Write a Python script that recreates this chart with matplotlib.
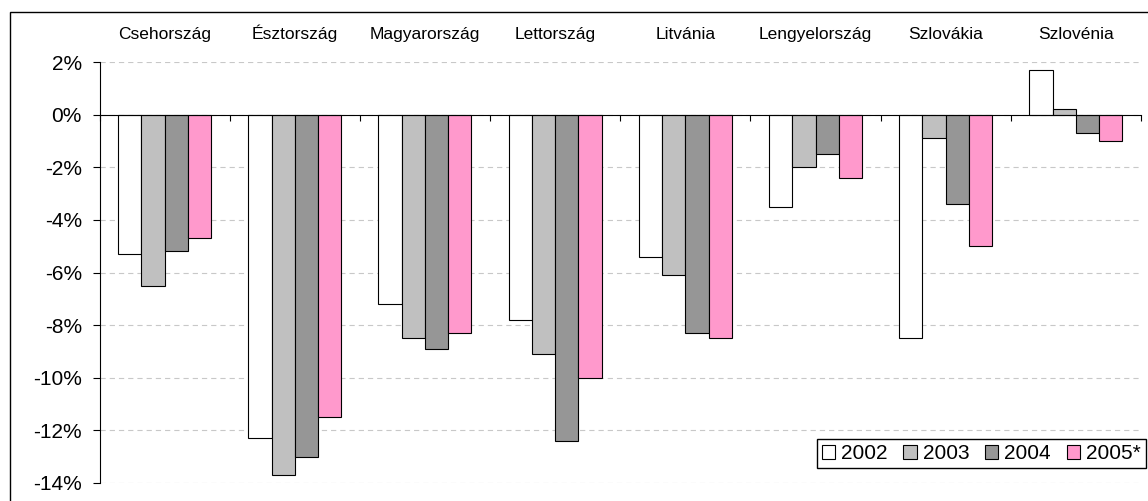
import matplotlib
matplotlib.use('Agg')
import matplotlib.pyplot as plt
import numpy as np
from matplotlib.patches import Rectangle

plt.rcParams['font.family'] = ['Liberation Sans', 'DejaVu Sans']
plt.rcParams['axes.unicode_minus'] = False

# Data (% of GDP)
countries = ['Csehország', 'Észtország', 'Magyarország', 'Lettország',
             'Litvánia', 'Lengyelország', 'Szlovákia', 'Szlovénia']
years = ['2002', '2003', '2004', '2005*']
vals_2002 = [-5.3, -12.3, -7.2, -7.8, -5.4, -3.5, -8.5, 1.7]
vals_2003 = [-6.5, -13.7, -8.5, -9.1, -6.1, -2.0, -0.9, 0.2]
vals_2004 = [-5.2, -13.0, -8.9, -12.4, -8.3, -1.5, -3.4, -0.7]
vals_2005 = [-4.7, -11.5, -8.3, -10.0, -8.5, -2.4, -5.0, -1.0]
yticks = [2, 0, -2, -4, -6, -8, -10, -12, -14]
ytick_labels = ['2%', '0%', '-2%', '-4%', '-6%', '-8%', '-10%', '-12%', '-14%']

series = [vals_2002, vals_2003, vals_2004, vals_2005]
colors = ['#FFFFFF', '#C0C0C0', '#969696', '#FF99CC']

fig = plt.figure(figsize=(11.48, 5.01), dpi=100)
ax = fig.add_axes([99.5 / 1148, 1 - 483 / 501, (1141 - 99.5) / 1148, (483 - 62) / 501])

x = np.arange(len(countries))
w = 1 / 5.6
for i, (vals, c) in enumerate(zip(series, colors)):
    ax.bar(x + (i - 1.5) * w, vals, width=w, color=c, edgecolor='black',
           linewidth=0.8, label=years[i], zorder=3)

ax.set_xlim(-0.5, len(countries) - 0.5)
ax.set_ylim(-14, 2)

# y axis
ax.set_yticks(yticks)
ax.set_yticklabels(ytick_labels, fontsize=15)
ax.tick_params(axis='y', direction='out', length=4.7, width=0.8, pad=8)
ax.yaxis.grid(True, color='#C8C8C8', linestyle=(0, (4.7, 3.6)), linewidth=0.8)
ax.set_axisbelow(True)

# category axis crossing at zero, labels on top
ax.spines['top'].set_visible(False)
ax.spines['right'].set_visible(False)
ax.spines['bottom'].set_position(('data', 0))
ax.spines['bottom'].set_zorder(4)
ax.spines['left'].set_linewidth(0.8)
ax.spines['bottom'].set_linewidth(0.8)
ax.set_xticks(x)
ax.set_xticklabels(countries, fontsize=12.5)
ax.set_xticks(np.arange(len(countries) + 1) - 0.5, minor=True)
ax.tick_params(axis='x', which='major', length=0, bottom=False, top=False,
               labelbottom=False, labeltop=True, pad=14.5)
ax.tick_params(axis='x', which='minor', direction='out', length=4, width=0.8,
               bottom=True, top=False)

leg = ax.legend(loc='upper right', bbox_to_anchor=(1146 / 1148, 1 - 439 / 501),
                bbox_transform=fig.transFigure, ncol=4, fontsize=15,
                frameon=True, fancybox=False, framealpha=1, edgecolor='black',
                handlelength=0.63, handleheight=0.63, handletextpad=0.3,
                columnspacing=0.75, borderpad=0.25, borderaxespad=0)
leg.get_frame().set_linewidth(1.0)

# outer chart border
fig.patches.append(Rectangle((10 / 1148, -0.1), 1.2, 1 - 12 / 501 + 0.1,
                             transform=fig.transFigure, fill=False,
                             edgecolor='black', linewidth=1.0))

fig.savefig('out.png', dpi=100)
